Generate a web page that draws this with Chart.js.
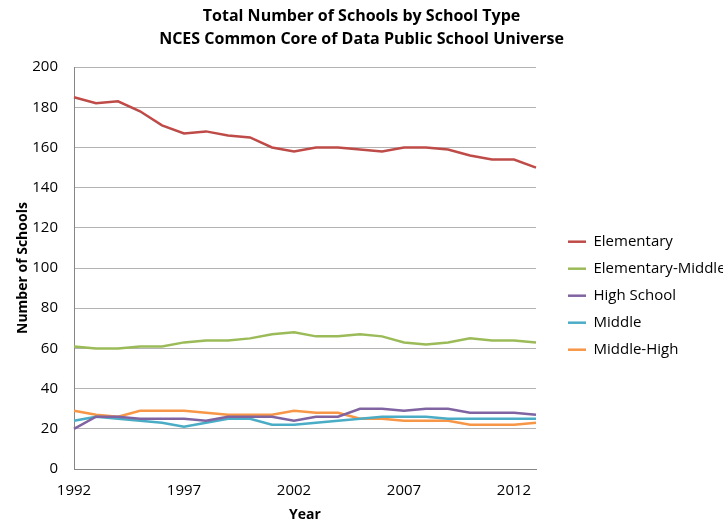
<!DOCTYPE html>
<html>
<head>
<meta charset="utf-8">
<script src="https://cdn.jsdelivr.net/npm/chart.js@4.4.1/dist/chart.umd.min.js"></script>
<style>
  html, body { margin: 0; padding: 0; background: #fff; overflow: hidden; }
  #wrap { width: 723px; height: 523px; position: relative; }
</style>
</head>
<body>
<div id="wrap"><canvas id="schoolsChart"></canvas></div>
<script>
const years = ['1992','1993','1994','1995','1996','1997','1998','1999','2000','2001','2002',
               '2003','2004','2005','2006','2007','2008','2009','2010','2011','2012','2013'];
const xTickLabels = ['1992','1997','2002','2007','2012'];

const elementary       = [185,182,183,178,171,167,168,166,165,160,158,160,160,159,158,160,160,159,156,154,154,150];
const elementaryMiddle = [61,60,60,61,61,63,64,64,65,67,68,66,66,67,66,63,62,63,65,64,64,63];
const highSchool       = [20,26,26,25,25,25,24,26,26,26,24,26,26,30,30,29,30,30,28,28,28,27];
const middle           = [24,26,25,24,23,21,23,25,25,22,22,23,24,25,26,26,26,25,25,25,25,25];
const middleHigh       = [29,27,26,29,29,29,28,27,27,27,29,28,28,25,25,24,24,24,22,22,22,23];

const font = '"Open Sans", sans-serif';
Chart.defaults.font.family = font;
Chart.defaults.color = '#000';

function series(label, data, color) {
  return {
    label: label,
    data: data,
    borderColor: color,
    backgroundColor: color,
    borderWidth: 2.5,
    pointRadius: 0,
    tension: 0,
    fill: false
  };
}

const legendWidth = 167;

new Chart(document.getElementById('schoolsChart'), {
  type: 'line',
  data: {
    labels: years,
    datasets: [
      series('Elementary', elementary, '#BE4B48'),
      series('Elementary-Middle', elementaryMiddle, '#9BBB59'),
      series('High School', highSchool, '#8064A2'),
      series('Middle', middle, '#4BACC6'),
      series('Middle-High', middleHigh, '#F79646')
    ]
  },
  options: {
    responsive: true,
    maintainAspectRatio: false,
    animation: false,
    layout: { padding: 0 },
    plugins: {
      title: {
        display: true,
        text: ['Total Number of Schools by School Type', 'NCES Common Core of Data Public School Universe'],
        font: { size: 16, weight: 'bold', lineHeight: 1.44 },
        padding: { top: 5, bottom: 16 }
      },
      legend: {
        position: 'right',
        align: 'center',
        title: { display: true, text: ' ', font: { size: 12, lineHeight: 1.2 }, padding: { top: 0, bottom: 54 } },
        labels: {
          usePointStyle: true,
          pointStyle: 'line',
          pointStyleWidth: 18,
          boxHeight: 14,
          padding: 12,
          font: { size: 15 },
          color: '#000'
        }
      },
      tooltip: { enabled: false }
    },
    scales: {
      x: {
        type: 'category',
        offset: false,
        grid: { display: false, drawTicks: false },
        border: { display: true, color: '#868686', width: 1 },
        ticks: {
          autoSkip: false,
          maxRotation: 0,
          padding: 13,
          font: { size: 15 },
          callback: function (val) {
            const lab = this.getLabelForValue(val);
            return xTickLabels.includes(lab) ? lab : null;
          }
        },
        title: { display: true, text: 'Year', font: { size: 14, weight: 'bold' }, padding: { top: 2, bottom: 0 } },
        afterFit: function (s) { s.height = 54; }
      },
      y: {
        min: 0,
        max: 200,
        grid: { color: '#b3b3b3', drawTicks: false },
        border: { display: true, color: '#868686', width: 1 },
        ticks: { stepSize: 20, padding: 16, font: { size: 15 } },
        title: { display: true, text: 'Number of Schools', font: { size: 14, weight: 'bold' }, padding: { top: 15, bottom: 0 } },
        afterFit: function (s) { s.width = 74; }
      },
      gap: {
        position: 'right',
        display: true,
        grid: { display: false, drawTicks: false },
        border: { display: false },
        ticks: { display: false },
        afterFit: function (s) { s.width = 20; }
      }
    }
  },
  plugins: [{
    id: 'fixedLegendWidth',
    beforeInit: function (chart) {
      const fit = chart.legend.fit;
      chart.legend.fit = function () {
        fit.call(this);
        this.width = legendWidth;
      };
    }
  }]
});
</script>
</body>
</html>
